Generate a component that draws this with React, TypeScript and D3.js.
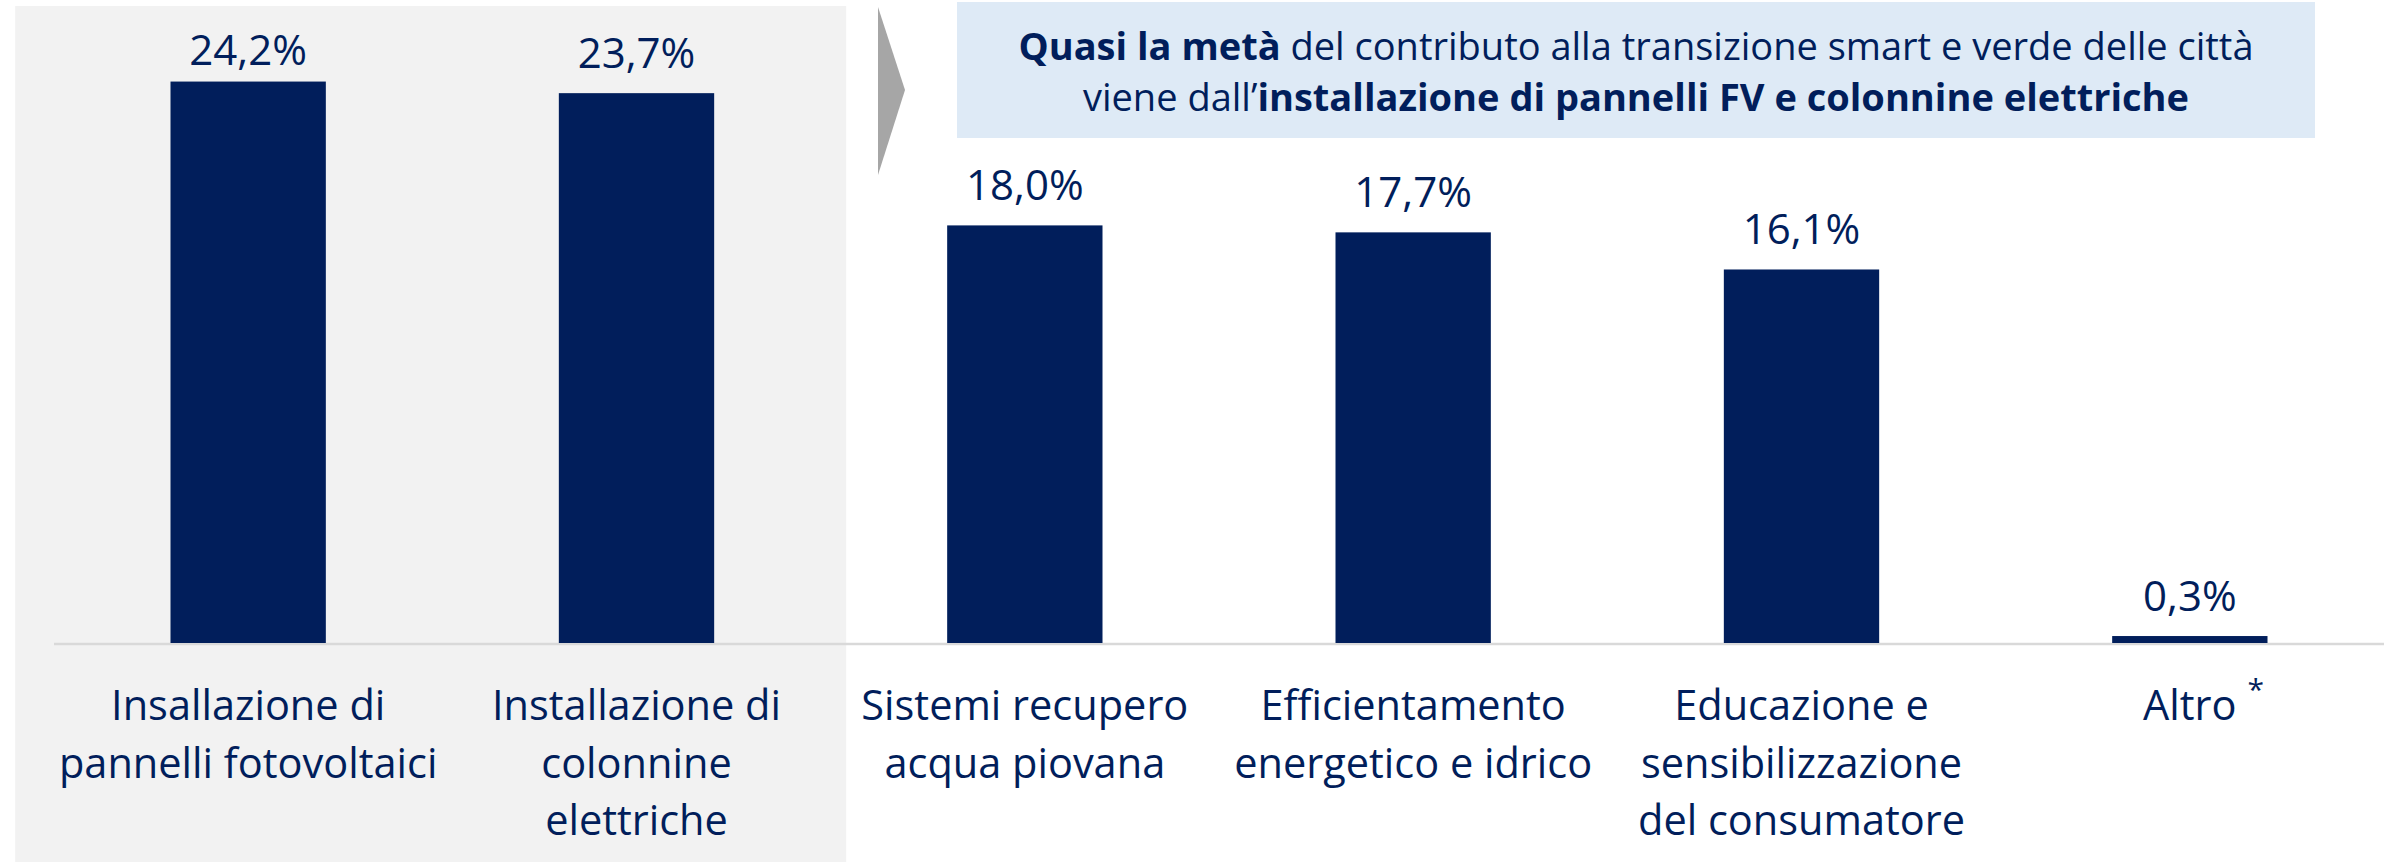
import React from "react";
import * as d3 from "d3";

// categories (label lines) and values
const categories = [
  "Insallazione di|pannelli fotovoltaici",
  "Installazione di|colonnine|elettriche",
  "Sistemi recupero|acqua piovana",
  "Efficientamento|energetico e idrico",
  "Educazione e|sensibilizzazione|del consumatore",
  "Altro",
];
const values = [24.2, 23.7, 18.0, 17.7, 16.1, 0.3];
const footnoteMark = "*";

const titleLine1 = [
  { text: "Quasi la metà", bold: true },
  { text: " del contributo alla transizione smart e verde delle città", bold: false },
];
const titleLine2 = [
  { text: "viene dall’", bold: false },
  { text: "installazione di pannelli FV e colonnine elettriche", bold: true },
];

const W = 2397;
const H = 862;
const navy = "#011E5B";
const font = "'Open Sans', 'DejaVu Sans', sans-serif";

const itLocale = d3.formatLocale({
  decimal: ",",
  thousands: ".",
  grouping: [3],
  currency: ["", "€"],
});
const fmt = itLocale.format(".1f");

const App = () => {
  const baseY = 643;

  const x = d3
    .scaleBand<string>()
    .domain(categories)
    .range([54, 2384])
    .paddingInner(0.6)
    .paddingOuter(0.3);

  const y = d3.scaleLinear().domain([0, 25]).range([baseY, 63]);

  const arrow = d3.line()([
    [878, 7],
    [905, 90],
    [878, 175],
  ]);

  // highlight panel behind the first two categories
  const panelLeft = x(categories[0])! - x.step() * 0.4;
  const panelRight = x(categories[1])! + x.bandwidth() + x.step() * 0.34;

  return (
    <svg
      width={W}
      height={H}
      style={{ position: "absolute", left: 0, top: 0, background: "#fff" }}
      fontFamily={font}
    >
      <rect x={panelLeft} y={6} width={panelRight - panelLeft} height={H - 6} fill="#F2F2F2" />

      <path d={arrow + "Z"} fill="#A6A6A6" />

      <rect x={957} y={2} width={2315 - 957} height={136} fill="#DEEAF6" />
      <text x={1636} y={60} textAnchor="middle" fontSize={38} fill={navy}>
        {titleLine1.map((t, i) => (
          <tspan key={i} fontWeight={t.bold ? 700 : 400}>
            {t.text}
          </tspan>
        ))}
      </text>
      <text x={1636} y={111} textAnchor="middle" fontSize={38} fill={navy}>
        {titleLine2.map((t, i) => (
          <tspan key={i} fontWeight={t.bold ? 700 : 400}>
            {t.text}
          </tspan>
        ))}
      </text>

      <line x1={54} x2={2384} y1={baseY + 1} y2={baseY + 1} stroke="#D9D9D9" strokeWidth={2.5} />

      {categories.map((c, i) => {
        const bx = x(c)!;
        const cx = bx + x.bandwidth() / 2;
        const top = y(values[i]);
        const lines = c.split("|");
        return (
          <g key={c}>
            <rect x={bx} y={top} width={x.bandwidth()} height={baseY - top} fill={navy} />
            <text
              x={cx}
              y={Math.max(top - 25, 65)}
              textAnchor="middle"
              fontSize={42}
              fill={navy}
            >
              {fmt(values[i]) + "%"}
            </text>
            {lines.map((ln, j) => (
              <text
                key={j}
                x={cx}
                y={720 + j * 57.5}
                textAnchor="middle"
                fontSize={41.5}
                fill={navy}
              >
                {ln}
              </text>
            ))}
            {c === "Altro" && (
              <text x={cx + 66} y={700} textAnchor="middle" fontSize={30} fill={navy}>
                {footnoteMark}
              </text>
            )}
          </g>
        );
      })}
    </svg>
  );
};

export default App;
